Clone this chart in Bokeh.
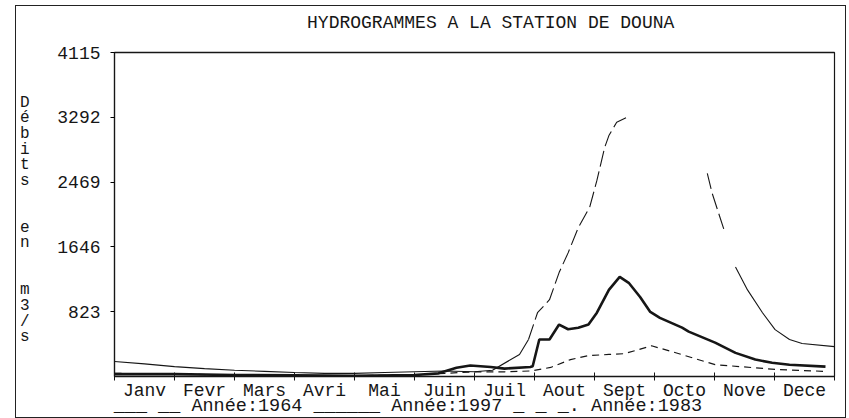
from bokeh.plotting import figure
from bokeh.models import FixedTicker, Range1d, LinearAxis
from bokeh.embed import file_html
from bokeh.resources import INLINE

NAN = float("nan")
titre = "HYDROGRAMMES A LA STATION DE DOUNA"
mois = ["Janv", "Fevr", "Mars", "Avri", "Mai", "Juin", "Juil", "Aout", "Sept", "Octo", "Nove", "Dece"]
y_ticks = [823, 1646, 2469, 3292, 4115]
y_titre = ["D", "é", "b", "i", "t", "s", "", "", "e", "n", "", "", "m", "3", "/", "s"]
annees = ["Année:1964", "Année:1997", "Année:1983"]

# x in month units (0 = 1er janvier, 12 = 31 decembre)
x64 = [0, 0.5, 1, 1.5, 2, 2.5, 3, 3.5, 4, 4.5, 5, 5.5, 6, 6.3, 6.75, 6.9, 7.05, 7.25, 7.41, 7.56,
       7.73, 7.92, 8.04, 8.17, 8.24, 8.37, 8.54, 9.2, 9.88, 9.96, 10.16, 10.35, 10.55, 10.8, 11.01,
       11.25, 11.46, 12]
q64 = [190, 160, 125, 100, 80, 65, 50, 40, 40, 50, 60, 70, 60, 80, 280, 470, 810, 975, 1320, 1570,
       1890, 2150, 2490, 2910, 3060, 3230, 3290, NAN, 2580, 2330, 1860, 1390, 1100, 810, 595,
       470, 420, 380]

x97 = [0, 1, 2, 3, 4, 5, 5.4, 5.7, 5.93, 6.27, 6.5, 6.93, 6.97, 7.08, 7.25, 7.41, 7.56, 7.73, 7.9,
       8.04, 8.24, 8.42, 8.57, 8.76, 8.93, 9.09, 9.46, 9.57, 10.01, 10.35, 10.68, 10.96, 11.25, 11.85]
q97 = [30, 30, 20, 15, 10, 20, 40, 110, 140, 120, 100, 120, 130, 470, 470, 660, 600, 620, 660,
       810, 1100, 1266, 1190, 1010, 820, 745, 620, 570, 430, 300, 215, 175, 150, 125]

x83 = [0, 1, 2, 3, 4, 5, 5.5, 6, 6.5, 6.93, 7.27, 7.6, 7.9, 8.24, 8.5, 8.95, 9.34, 10.01, 10.68,
       11.01, 11.85]
q83 = [40, 30, 20, 10, 10, 20, 40, 60, 60, 70, 115, 215, 265, 280, 290, 390, 305, 150, 110,
       90, 65]

FONT = "Liberation Mono"
INK = "#161616"
NB = "\u00a0"

p = figure(width=831, height=413, output_backend="svg", toolbar_location=None,
           x_range=Range1d(0, 12), y_range=Range1d(0, 4115),
           min_border_left=98, min_border_right=13, min_border_top=46, min_border_bottom=40)
p.styles = {"border": "1px solid #222", "box-sizing": "border-box",
            "margin-left": "15px", "margin-top": "5px"}
p.grid.visible = False
p.outline_line_color = INK
p.outline_line_width = 1.2

xa = p.below[0]
ya = p.left[0]

# 1964: the plotter draws flat stretches solid and steep stretches dashed
p.line(x64[:16], q64[:16], line_color=INK, line_width=1.1)
p.line(x64[15:31], q64[15:31], line_color=INK, line_width=1.1, line_dash="16 5")
p.line(x64[31:], q64[31:], line_color=INK, line_width=1.1)
p.line(x97, q97, line_color=INK, line_width=2.6)
p.line(x83, q83, line_color=INK, line_width=1.2, line_dash="7 5")

# title written as the label of a tick-less top axis
top = LinearAxis(ticker=FixedTicker(ticks=[], minor_ticks=[]))
top.axis_label = NB * 3 + titre
top.axis_label_text_font = FONT
top.axis_label_text_font_size = "18px"
top.axis_label_text_font_style = "normal"
top.axis_label_text_color = INK
top.axis_label_standoff = 20
top.axis_line_color = INK
top.axis_line_width = 1.5
top.major_tick_line_color = None
top.minor_tick_line_color = None
top.major_label_text_font_size = "0px"
p.add_layout(top, "above")

mids = [i + 0.5 for i in range(len(mois))]
bounds = list(range(len(mois) + 1))
xa.ticker = FixedTicker(ticks=mids, minor_ticks=bounds)
xa.major_label_overrides = {m: lab for m, lab in zip(mids, mois)}
xa.major_tick_line_color = None
xa.major_tick_out = 0
xa.major_tick_in = 0
xa.minor_tick_in = 4
xa.minor_tick_out = 4
xa.minor_tick_line_color = INK
xa.axis_line_color = INK
xa.axis_line_width = 1.5
xa.major_label_text_font = FONT
xa.major_label_text_font_size = "18px"
xa.major_label_text_color = INK
xa.major_label_standoff = 0
# line-printer style key: dash samples typed with underscores before each year
s64, s97, s83 = "___" + NB + "__", "______", "_" + NB + "_" + NB + "_."
xa.axis_label = NB.join([s64, annees[0], s97, annees[1], s83, annees[2]]) + NB * 12
xa.axis_label_text_font = FONT
xa.axis_label_text_font_size = "18.5px"
xa.axis_label_text_font_style = "normal"
xa.axis_label_text_color = INK
xa.axis_label_standoff = -8

ya.ticker = FixedTicker(ticks=y_ticks, minor_ticks=[])
ya.major_tick_out = 4
ya.major_tick_in = 0
ya.minor_tick_line_color = None
ya.major_label_standoff = 10
ya.axis_line_color = INK
ya.axis_line_width = 1.2
ya.major_label_text_font = FONT
ya.major_label_text_font_size = "18px"
ya.major_label_text_color = INK

# vertical axis title written one character per line (like the original plotter)
rows = [k for k, c in enumerate(y_titre) if c]
p.extra_y_ranges = {"titre": Range1d(start=17.5, end=-3.2)}
ta = LinearAxis(y_range_name="titre", ticker=FixedTicker(ticks=rows, minor_ticks=[]),
                major_label_overrides={k: y_titre[k] for k in rows})
ta.axis_line_color = None
ta.major_tick_line_color = None
ta.minor_tick_line_color = None
ta.major_tick_out = 0
ta.major_tick_in = 0
ta.major_label_standoff = 25
ta.major_label_text_font = FONT
ta.major_label_text_font_size = "16px"
ta.major_label_text_color = INK
p.add_layout(ta, "left")

open("out.html", "w").write(file_html(p, INLINE))
